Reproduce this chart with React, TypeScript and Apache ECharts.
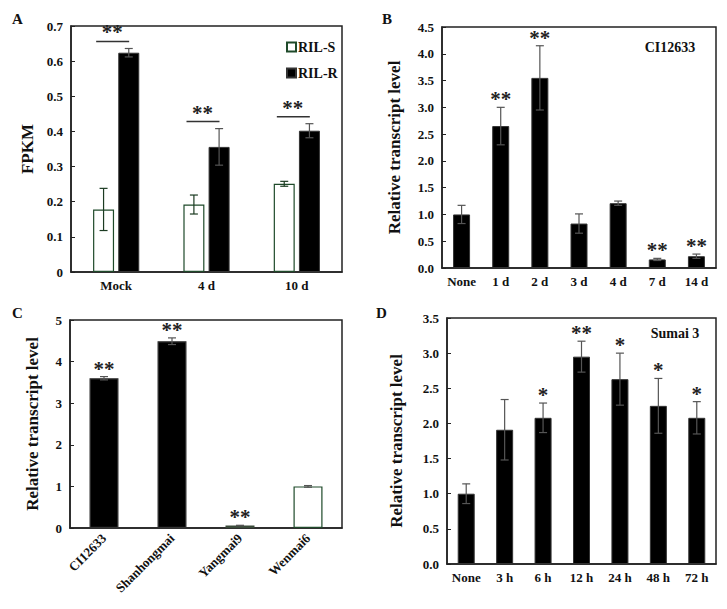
import React, { useEffect, useRef } from 'react';
import * as echarts from 'echarts';

// ---------- data ----------
const catsA = ['Mock', '4 d', '10 d'];
const rilS = [0.178, 0.192, 0.251];
const rilSErr = [0.06, 0.027, 0.007];
const rilR = [0.624, 0.356, 0.402];
const rilRErr = [0.012, 0.052, 0.02];
const starsA = ['**', '**', '**'];

const catsB = ['None', '1 d', '2 d', '3 d', '4 d', '7 d', '14 d'];
const valsB = [1.0, 2.65, 3.55, 0.83, 1.21, 0.16, 0.22];
const errB = [0.17, 0.35, 0.6, 0.18, 0.04, 0.02, 0.04];
const starsB = ['', '**', '**', '', '', '**', '**'];

const catsC = ['CI12633', 'Shanhongmai', 'Yangmai9', 'Wenmai6'];
const valsC = [3.6, 4.49, 0.06, 1.0];
const errC = [0.04, 0.08, 0.005, 0.02];
const starsC = ['**', '**', '**', ''];

const catsD = ['None', '3 h', '6 h', '12 h', '24 h', '48 h', '72 h'];
const valsD = [1.0, 1.91, 2.08, 2.95, 2.63, 2.25, 2.08];
const errD = [0.14, 0.43, 0.21, 0.22, 0.37, 0.39, 0.23];
const starsD = ['', '', '*', '**', '*', '*', '*'];

// ---------- styles ----------
const FONT = '"Liberation Serif", "Times New Roman", serif';
const INK = '#111';
const colorsC = ['#000', '#000', '#9aa89a', '#fff'];
const bordersC = ['#333', '#333', '#3a4a3a', '#1f4a2a'];

function errorSeries(name: string, idx: number, means: number[], errs: number[], offset: number, color: string, capHalf: number) {
  return {
    type: 'custom', name, xAxisIndex: idx, yAxisIndex: idx, z: 5, silent: true, clip: false,
    data: means.map((m, i) => [i, m, errs[i]]),
    encode: { x: 0, y: 1 },
    renderItem: (params: any, api: any) => {
      const i = api.value(0), m = api.value(1), s = api.value(2);
      const t = api.coord([i, m + s]);
      const b = api.coord([i, m - s]);
      const x = t[0] + offset;
      const st = { stroke: color, lineWidth: 1.2 };
      return {
        type: 'group', children: [
          { type: 'line', shape: { x1: x, y1: t[1], x2: x, y2: b[1] }, style: st },
          { type: 'line', shape: { x1: x - capHalf, y1: t[1], x2: x + capHalf, y2: t[1] }, style: st },
          { type: 'line', shape: { x1: x - capHalf, y1: b[1], x2: x + capHalf, y2: b[1] }, style: st },
        ],
      };
    },
  };
}

function starSeries(name: string, idx: number, means: number[], errs: number[], stars: string[]) {
  return {
    type: 'custom', name, xAxisIndex: idx, yAxisIndex: idx, z: 6, silent: true, clip: false,
    data: means.map((m, i) => [i, m + errs[i]]),
    encode: { x: 0, y: 1 },
    renderItem: (params: any, api: any) => {
      const p = api.coord([api.value(0), api.value(1)]);
      return {
        type: 'text', x: p[0], y: p[1] - 8,
        style: {
          text: stars[params.dataIndex], fill: '#222',
          font: `bold 21px ${FONT}`,
          textAlign: 'center', textVerticalAlign: 'middle', align: 'center', verticalAlign: 'middle',
        },
      };
    },
  };
}

function sigSeriesA() {
  const tops = rilS.map((v, i) => Math.max(v + rilSErr[i], rilR[i] + rilRErr[i]));
  return {
    type: 'custom', name: 'sigA', xAxisIndex: 0, yAxisIndex: 0, z: 6, silent: true, clip: false,
    data: tops.map((t, i) => [i, t]),
    encode: { x: 0, y: 1 },
    renderItem: (params: any, api: any) => {
      const p = api.coord([api.value(0), api.value(1)]);
      const y = p[1] - 7;
      return {
        type: 'group', children: [
          { type: 'line', shape: { x1: p[0] - 20, y1: y, x2: p[0] + 13, y2: y }, style: { stroke: '#333', lineWidth: 1.5 } },
          {
            type: 'text', x: p[0] - 4, y: y - 9,
            style: {
              text: starsA[params.dataIndex], fill: '#222', font: `bold 21px ${FONT}`,
              textAlign: 'center', textVerticalAlign: 'middle', align: 'center', verticalAlign: 'middle',
            },
          },
        ],
      };
    },
  };
}

const labelStyle = { fontFamily: FONT, fontWeight: 'bold', fontSize: 13, color: INK };

function xAxis(idx: number, data: string[], extra: any = {}) {
  return {
    type: 'category', gridIndex: idx, data,
    axisLine: { lineStyle: { color: '#222', width: 1.5 } },
    axisTick: { inside: true, length: 4, lineStyle: { color: '#222' } },
    axisLabel: { ...labelStyle, margin: 7, interval: 0, ...extra },
    splitLine: { show: false },
  };
}

function yAxis(idx: number, max: number, interval: number, fmt: (v: number) => string, name: string, gap: number, nameSize = 17) {
  return {
    type: 'value', gridIndex: idx, min: 0, max, interval,
    axisLine: { show: true, lineStyle: { color: '#222', width: 1.5 } },
    axisTick: { show: true, inside: true, length: 4, lineStyle: { color: '#222' } },
    axisLabel: { ...labelStyle, margin: 8, formatter: fmt },
    splitLine: { show: false },
    name, nameLocation: 'middle', nameGap: gap,
    nameTextStyle: { fontFamily: FONT, fontWeight: 'bold', fontSize: nameSize, color: INK },
  };
}

const gridBase = { show: true, borderColor: '#222', borderWidth: 1.5, backgroundColor: 'transparent', containLabel: false };

export default function App() {
  const ref = useRef<HTMLDivElement>(null);
  useEffect(() => {
    if (!ref.current) return;
    const chart = echarts.init(ref.current, null, { renderer: 'svg' });
    const option: any = {
      animation: false,
      backgroundColor: '#fff',
      grid: [
        { ...gridBase, left: 71, right: 385, top: 26, bottom: 337 },
        { ...gridBase, left: 442, right: 11, top: 27, bottom: 341 },
        { ...gridBase, left: 70, right: 385, top: 320, bottom: 81 },
        { ...gridBase, left: 447, right: 11, top: 318, bottom: 45 },
      ],
      xAxis: [
        xAxis(0, catsA),
        xAxis(1, catsB),
        xAxis(2, catsC, { rotate: 45, margin: 8 }),
        xAxis(3, catsD),
      ],
      yAxis: [
        yAxis(0, 0.7, 0.1, (v) => (v === 0 ? '0' : v.toFixed(1)), 'FPKM', 35),
        yAxis(1, 4.5, 0.5, (v) => v.toFixed(1), 'Relative transcript level', 39),
        yAxis(2, 5, 1, (v) => String(Math.round(v)), 'Relative transcript level', 29),
        yAxis(3, 3.5, 0.5, (v) => v.toFixed(1), 'Relative transcript level', 42),
      ],
      legend: {
        data: ['RIL-S', 'RIL-R'], orient: 'vertical', left: 286, top: 40,
        icon: 'rect', itemWidth: 9, itemHeight: 9, itemGap: 12, padding: 0,
        textStyle: { fontFamily: FONT, fontWeight: 'bold', fontSize: 14, color: INK, padding: [0, 0, 0, -3] },
      },
      graphic: [
        { type: 'text', left: 12, top: 11, style: { text: 'A', font: `bold 15px ${FONT}`, fill: INK } },
        { type: 'text', left: 382, top: 11, style: { text: 'B', font: `bold 15px ${FONT}`, fill: INK } },
        { type: 'text', left: 12, top: 305, style: { text: 'C', font: `bold 15px ${FONT}`, fill: INK } },
        { type: 'text', left: 376, top: 305, style: { text: 'D', font: `bold 15px ${FONT}`, fill: INK } },
        { type: 'text', x: 670, y: 47, style: { text: 'CI12633', font: `bold 14px ${FONT}`, fill: INK, textAlign: 'center', textVerticalAlign: 'middle', align: 'center', verticalAlign: 'middle' } },
        { type: 'text', x: 675, y: 333, style: { text: 'Sumai 3', font: `bold 14px ${FONT}`, fill: INK, textAlign: 'center', textVerticalAlign: 'middle', align: 'center', verticalAlign: 'middle' } },
      ],
      series: [
        {
          type: 'bar', name: 'RIL-S', xAxisIndex: 0, yAxisIndex: 0, data: rilS, barWidth: 21, barGap: '20%',
          itemStyle: { color: '#fff', borderColor: '#1f4a2a', borderWidth: 1.2 },
        },
        {
          type: 'bar', name: 'RIL-R', xAxisIndex: 0, yAxisIndex: 0, data: rilR, barWidth: 21, barGap: '20%',
          itemStyle: { color: '#000', borderColor: '#333', borderWidth: 1 },
        },
        errorSeries('errS', 0, rilS, rilSErr, -12.6, '#1c3b22', 4),
        errorSeries('errR', 0, rilR, rilRErr, 12.6, '#555', 4),
        sigSeriesA(),
        {
          type: 'bar', name: 'B', xAxisIndex: 1, yAxisIndex: 1, data: valsB, barWidth: 17,
          itemStyle: { color: '#000', borderColor: '#333', borderWidth: 1 },
        },
        errorSeries('errB', 1, valsB, errB, 0, '#555', 4),
        starSeries('starB', 1, valsB, errB, starsB),
        {
          type: 'bar', name: 'C', xAxisIndex: 2, yAxisIndex: 2, barWidth: 29,
          data: valsC.map((v, i) => ({ value: v, itemStyle: { color: colorsC[i], borderColor: bordersC[i], borderWidth: 1.2 } })),
        },
        errorSeries('errC', 2, valsC, errC, 0, '#555', 4),
        starSeries('starC', 2, valsC, errC, starsC),
        {
          type: 'bar', name: 'D', xAxisIndex: 3, yAxisIndex: 3, data: valsD, barWidth: 17,
          itemStyle: { color: '#000', borderColor: '#333', borderWidth: 1 },
        },
        errorSeries('errD', 3, valsD, errD, 0, '#555', 4),
        starSeries('starD', 3, valsD, errD, starsD),
      ],
    };
    chart.setOption(option);
    return () => chart.dispose();
  }, []);
  return <div ref={ref} style={{ position: 'fixed', left: 0, top: 0, width: 727, height: 609 }} />;
}
